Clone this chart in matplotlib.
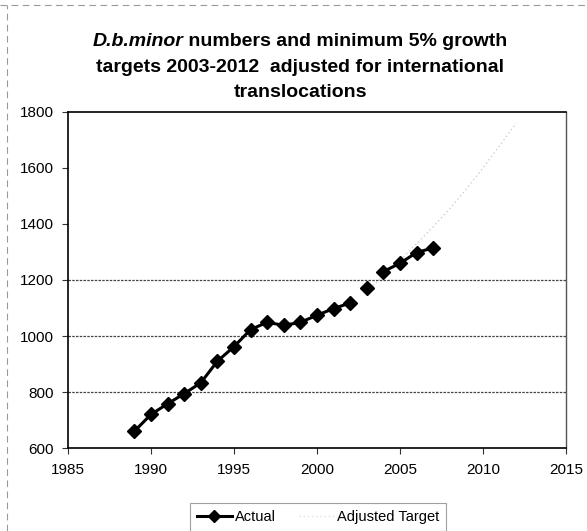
import matplotlib
matplotlib.use("Agg")
import matplotlib.pyplot as plt
from matplotlib.lines import Line2D
import numpy as np

plt.rcParams['font.family'] = ['Liberation Sans', 'DejaVu Sans']

# ---- data ----
years_actual = [1989, 1990, 1991, 1992, 1993, 1994, 1995, 1996, 1997, 1998,
                1999, 2000, 2001, 2002, 2003, 2004, 2005, 2006, 2007]
actual = [660, 720, 758, 794, 833, 910, 962, 1023, 1049, 1038,
          1049, 1074, 1098, 1118, 1170, 1230, 1260, 1298, 1315]
# line segments of the Actual series (the 2003 point stands alone in the scan)
actual_segments = [(1989, 2002), (2004, 2007)]

years_target = [2003, 2004, 2005, 2006, 2007, 2008, 2009, 2010, 2011, 2012]
target = [1160, 1215, 1270, 1330, 1390, 1455, 1525, 1600, 1680, 1760]

x_ticks = [1985, 1990, 1995, 2000, 2005, 2010, 2015]
y_ticks = [600, 800, 1000, 1200, 1400, 1600, 1800]
grid_levels = [800, 1000, 1200]

title_italic = "D.b.minor"
title_line1 = " numbers and minimum 5% growth"
title_line2 = "targets 2003-2012  adjusted for international"
title_line3 = "translocations"

W, H = 587, 531
fig = plt.figure(figsize=(W / 100, H / 100), dpi=100)
ax = fig.add_axes([68 / W, 1 - 448 / H, (566 - 68) / W, (448 - 112) / H])

for g in grid_levels:
    ax.axhline(g, color='#444444', lw=0.9, ls=(0, (2, 1)), zorder=1)

# target (faint)
ax.plot(years_target, target, color='#cfcfcf', lw=1.0, ls=(0, (1, 2)),
        zorder=2, label='Adjusted Target')

# actual
ya = np.array(years_actual)
va = np.array(actual)
for a, b in actual_segments:
    m = (ya >= a) & (ya <= b)
    ax.plot(ya[m], va[m], color='black', lw=2.2, zorder=3)
ax.plot(ya, va, ls='none', marker='D', ms=7, color='black', zorder=4)

ax.set_xlim(1985, 2015)
ax.set_ylim(600, 1800)
ax.set_xticks(x_ticks)
ax.set_yticks(y_ticks)
ax.tick_params(axis='both', labelsize=11, direction='out', length=4,
               width=0.8, color='#333333')
ax.tick_params(axis='x', pad=7)
ax.tick_params(axis='y', pad=6)

for s in ['left', 'bottom', 'top']:
    ax.spines[s].set_color('black')
    ax.spines[s].set_linewidth(1.2)
ax.spines['right'].set_color('#555555')
ax.spines['right'].set_linewidth(1.0)

# ---- title (mixed italic / bold) ----
tfs = 14
cx = 300
t_it = fig.text(0, 0, title_italic, fontsize=tfs, fontweight='bold',
                fontstyle='italic', va='baseline', ha='left')
t_rest = fig.text(0, 0, title_line1, fontsize=tfs, fontweight='bold',
                  va='baseline', ha='left')
fig.canvas.draw()
r = fig.canvas.get_renderer()
w1 = t_it.get_window_extent(r).width
w2 = t_rest.get_window_extent(r).width
x0 = cx - (w1 + w2) / 2
t_it.set_position((x0 / W, 1 - 46 / H))
t_rest.set_position(((x0 + w1) / W, 1 - 46 / H))
fig.text(cx / W, 1 - 72 / H, title_line2, fontsize=tfs, fontweight='bold',
         va='baseline', ha='center')
fig.text(cx / W, 1 - 97 / H, title_line3, fontsize=tfs, fontweight='bold',
         va='baseline', ha='center')

handles = [Line2D([], [], color='black', lw=2.2, marker='D', ms=6),
           Line2D([], [], color='#e0e0e0', lw=1.0, ls=(0, (1, 2)))]
leg = fig.legend(handles, ['Actual', 'Adjusted Target'], ncol=2,
                 loc='center', bbox_to_anchor=(318 / W, 1 - 517 / H),
                 fontsize=10.5, frameon=True, fancybox=False,
                 handlelength=2.4, columnspacing=1.6, handletextpad=0.2,
                 borderpad=0.45)
leg.get_frame().set_edgecolor('#888888')
leg.get_frame().set_linewidth(0.8)

# outer chart-area border fragments (dashed)
fig.add_artist(Line2D([0, 1], [1 - 5 / H, 1 - 5 / H], transform=fig.transFigure,
                      color='#999999', lw=0.8, ls=(0, (6, 4))))
fig.add_artist(Line2D([7 / W, 7 / W], [0, 1 - 5 / H], transform=fig.transFigure,
                      color='#999999', lw=0.8, ls=(0, (6, 4))))

fig.savefig('out.png', dpi=100)
